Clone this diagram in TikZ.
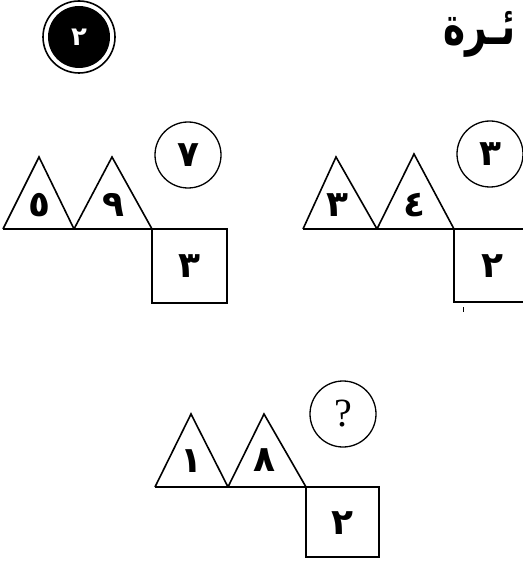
\documentclass[tikz,border=0pt]{standalone}
\usepackage{fontspec}
\newfontfamily\arabicfont[Script=Arabic]{DejaVu Sans}
\newfontfamily\qfont{Liberation Serif}
\TeXXeTstate=1
\begin{document}
\begin{tikzpicture}[x=1pt,y=-1pt,
  shape line/.style={line width=1.6pt, line join=miter},
  digit/.style={font=\arabicfont\bfseries\fontsize{36}{36}\selectfont, inner sep=0pt},
  ring/.style={circle, draw, line width=1.3pt, minimum size=66pt, inner sep=0pt}]
\useasboundingbox (0,0) rectangle (522,561);
% header
\node[circle, draw, line width=1.6pt, minimum size=72pt, inner sep=0pt] (hdrring) at (79,37) {};
\node[circle, fill=black, minimum size=62pt, inner sep=0pt, text=white, font=\arabicfont\bfseries\fontsize{26}{26}\selectfont] (hdr) at (79,37) {٢};
\node[font=\arabicfont\bfseries\fontsize{44}{44}\selectfont, inner sep=0pt, anchor=east, xscale=0.85, yscale=1.2] (title) at (516,34) {\beginR ئـرة\endR};

% left group
\coordinate (La) at (3,229); \coordinate (Lb) at (74,229); \coordinate (Lc) at (152,229); \coordinate (Ld) at (227,229);
\draw[shape line] (La) -- (39,157) -- (Lb) (Lb) -- (112,157) -- (Lc);
\draw[shape line] (La) -- (Ld) -- (227,303) -- (152,303) -- (Lc);
\node[digit] (l1) at (39,205) {٥};
\node[digit] (l2) at (113,205) {٩};
\node[digit] (l3) at (189,266) {٣};
\node[ring] (lc) at (188,155) {};
\node[digit] at (lc) {٧};

% right group
\coordinate (Ra) at (303,229); \coordinate (Rb) at (377,229); \coordinate (Rc) at (454,229); \coordinate (Rd) at (530,229);
\draw[shape line] (Ra) -- (336,157) -- (Rb) (Rb) -- (414,154) -- (Rc);
\draw[shape line] (Ra) -- (Rd) (Rc) -- (454,302) -- (530,302);
\draw[line width=1pt] (463,307) -- (463,312);
\node[digit] (r1) at (337,205) {٣};
\node[digit] (r2) at (414,205) {٤};
\node[digit] (r3) at (492,266) {٢};
\node[ring] (rc) at (490,154) {};
\node[digit] at (rc) {٣};

% bottom group
\coordinate (Ba) at (155,487); \coordinate (Bb) at (228,487); \coordinate (Bc) at (306,487); \coordinate (Bd) at (379,487);
\draw[shape line] (Ba) -- (191,414) -- (Bb) (Bb) -- (264,414) -- (Bc);
\draw[shape line] (Ba) -- (Bd) -- (379,557) -- (306,557) -- (Bc);
\node[digit] (b1) at (191,461) {١};
\node[digit] (b2) at (264,460) {٨};
\node[digit] (b3) at (342,523) {٢};
\node[ring] (bc) at (343,414) {};
\node[font=\qfont\fontsize{40}{40}\selectfont, inner sep=0pt] (qm) at (bc) {?};
\end{tikzpicture}
\end{document}
